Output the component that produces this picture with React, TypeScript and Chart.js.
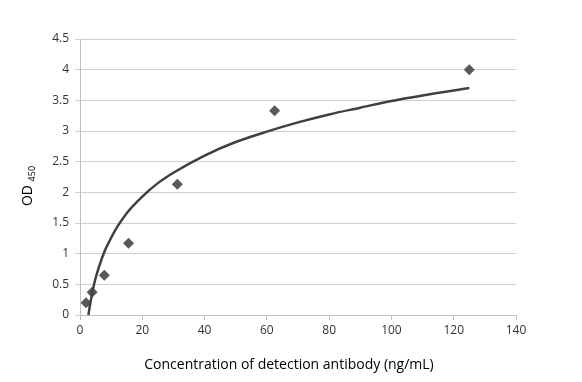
import React, { useEffect, useRef } from "react";
import { Chart, registerables } from "chart.js";

Chart.register(...registerables);

const concentrations = [1.95, 3.9, 7.8, 15.6, 31.25, 62.5, 125];
const odValues = [0.2, 0.37, 0.65, 1.17, 2.13, 3.33, 4.0];

const curveX = [2.7, 3, 4, 5, 6, 8, 10, 12, 15, 20, 25, 30, 40, 50, 60, 70, 80, 90, 100, 110, 125];
const curveY = [0.0, 0.1, 0.38, 0.6, 0.77, 1.05, 1.26, 1.44, 1.66, 1.93, 2.15, 2.32, 2.6, 2.82, 2.99, 3.14, 3.27, 3.38, 3.49, 3.58, 3.7];

const xTicks = [0, 20, 40, 60, 80, 100, 120, 140];
const yTicks = [0, 0.5, 1, 1.5, 2, 2.5, 3, 3.5, 4, 4.5];

const xTitle = "Concentration of detection antibody (ng/mL)";

const FONT = "'Open Sans', 'Noto Sans', sans-serif";

const titlesPlugin = {
  id: "titles",
  afterDraw(chart: any) {
    const ctx = chart.ctx;
    ctx.save();
    ctx.fillStyle = "#000";
    ctx.font = `14px ${FONT}`;
    ctx.textAlign = "center";
    ctx.textBaseline = "middle";
    ctx.fillText(xTitle, 289, 365);
    ctx.restore();

    ctx.save();
    ctx.translate(32, 186);
    ctx.rotate(-Math.PI / 2);
    ctx.fillStyle = "#000";
    ctx.textBaseline = "alphabetic";
    ctx.font = `14px ${FONT}`;
    const w1 = ctx.measureText("OD ").width;
    ctx.font = `9px ${FONT}`;
    const w2 = ctx.measureText("450").width;
    const start = -(w1 + w2) / 2;
    ctx.font = `14px ${FONT}`;
    ctx.textAlign = "left";
    ctx.fillText("OD ", start, 0);
    ctx.font = `9px ${FONT}`;
    ctx.fillText("450", start + w1, 3);
    ctx.restore();
  },
};

export default function App() {
  const ref = useRef<HTMLCanvasElement | null>(null);
  useEffect(() => {
    document.body.style.margin = "0";
    const chart = new Chart(ref.current as HTMLCanvasElement, {
      type: "scatter",
      data: {
        datasets: [
          {
            label: "OD",
            data: concentrations.map((x, i) => ({ x, y: odValues[i] })),
            pointStyle: "rectRot",
            pointRadius: 5.5,
            backgroundColor: "#595959",
            borderColor: "#595959",
            borderWidth: 0,
            showLine: false,
            order: 1,
          },
          {
            label: "fit",
            data: curveX.map((x, i) => ({ x, y: curveY[i] })),
            showLine: true,
            pointRadius: 0,
            borderColor: "#404040",
            borderWidth: 2.5,
            cubicInterpolationMode: "monotone",
            fill: false,
            order: 0,
          },
        ],
      },
      options: {
        animation: false,
        responsive: false,
        maintainAspectRatio: false,
        layout: { padding: { left: 0, right: 66, top: 39, bottom: 0 } },
        plugins: { legend: { display: false }, tooltip: { enabled: false } },
        scales: {
          x: {
            type: "linear",
            min: 0,
            max: 140,
            afterBuildTicks: (s: any) => {
              s.ticks = xTicks.map((v) => ({ value: v }));
            },
            afterFit: (s: any) => {
              s.height = 67;
            },
            grid: { drawOnChartArea: false, color: "#bfbfbf", tickLength: 5 },
            border: { color: "#bfbfbf" },
            ticks: {
              color: "#333",
              font: { family: FONT, size: 12 },
              padding: 3,
              maxRotation: 0,
              callback: (v: any) => String(v),
            },
          },
          y: {
            type: "linear",
            min: 0,
            max: 4.5,
            afterBuildTicks: (s: any) => {
              s.ticks = yTicks.map((v) => ({ value: v }));
            },
            afterFit: (s: any) => {
              s.width = 80;
            },
            grid: { color: "#d0d0d0", tickLength: 5 },
            border: { color: "#bfbfbf" },
            ticks: {
              color: "#333",
              font: { family: FONT, size: 12 },
              padding: 6,
              callback: (v: any) => String(v),
            },
          },
        },
      },
      plugins: [titlesPlugin],
    } as any);
    return () => chart.destroy();
  }, []);
  return (
    <div style={{ width: 582, height: 382 }}>
      <canvas ref={ref} width={582} height={382} style={{ display: "block" }} />
    </div>
  );
}
